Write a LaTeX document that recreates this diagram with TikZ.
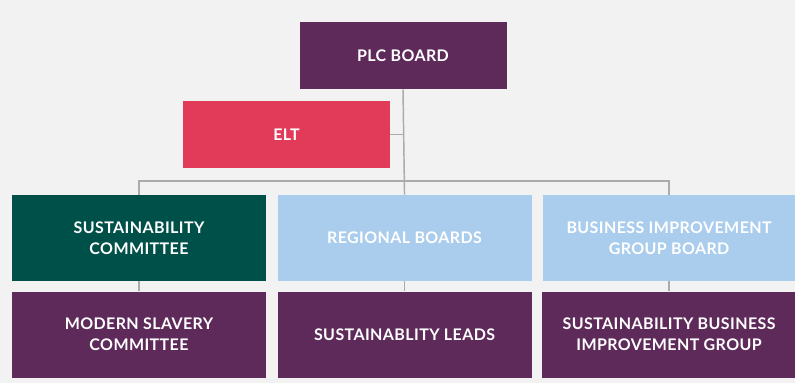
\documentclass[tikz,border=0pt]{standalone}
\usepackage{fontspec}
\setmainfont{Lato}[LetterSpace=2.5]
\usepackage{xcolor}
\definecolor{plcpurple}{HTML}{5E2A5A}
\definecolor{eltred}{HTML}{E23B59}
\definecolor{susgreen}{HTML}{00504A}
\definecolor{bluebox}{HTML}{AACDED}
\definecolor{pagegrey}{HTML}{F2F2F2}
\definecolor{linegrey}{HTML}{ABABAB}
\usetikzlibrary{positioning}

\begin{document}
\begin{tikzpicture}[
  x=0.75pt,y=-0.75pt,
  node distance=7.5pt and 8.25pt,
  every node/.style={rectangle,inner sep=0pt,align=center,text=white,font=\bfseries\fontsize{12}{16}\selectfont},
  box/.style={minimum width=190.5pt,minimum height=64.5pt},
  topbox/.style={minimum width=155.25pt,minimum height=50.25pt},
  purple/.style={fill=plcpurple},
  blue/.style={fill=bluebox},
  link/.style={draw=linegrey,line width=1.1pt},
]
% background
\fill[pagegrey] (0,0) rectangle (795,383);
\useasboundingbox (0,0) rectangle (795,383);

% Top
\node[topbox,purple] (plc) at (403,55.5) {PLC BOARD};
\node[topbox,fill=eltred] (elt) at (286.5,134.5) {ELT};

% Middle row
\node[box,fill=susgreen] (scom) at (139,238) {SUSTAINABILITY\\COMMITTEE};
\node[box,blue,right=of scom] (rboards) {REGIONAL BOARDS};
\node[box,blue,right=of rboards,minimum width=189pt] (bigboard) {BUSINESS IMPROVEMENT\\GROUP BOARD};

% Bottom row
\node[box,purple,below=of scom] (mslavery) {MODERN SLAVERY\\COMMITTEE};
\node[box,purple,below=of rboards] (leads) {SUSTAINABLITY LEADS};
\node[box,purple,below=of bigboard] (sbig) {SUSTAINABILITY BUSINESS\\IMPROVEMENT GROUP};

% Lines
\coordinate (bar) at (403,181);
\draw[link] (plc.south) -- (rboards.north);
\draw[link] (elt.east) -- (elt.east -| plc.south);
\draw[link] (scom.north) |- (bar) -| (bigboard.north);
\draw[link] (scom.south) -- (mslavery.north);
\draw[link] (rboards.south) -- (leads.north);
\draw[link] (bigboard.south) -- (sbig.north);
\end{tikzpicture}
\end{document}
